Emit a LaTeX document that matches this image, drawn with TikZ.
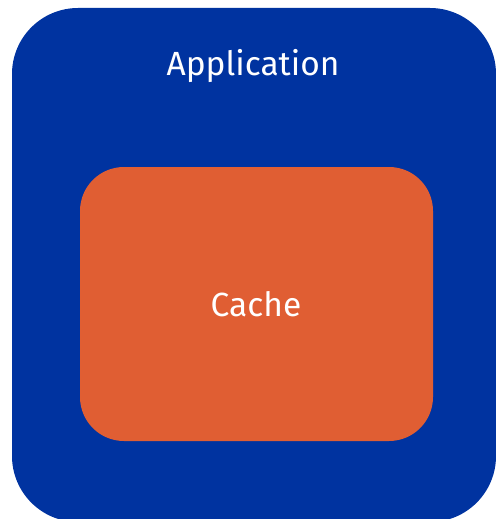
\documentclass[tikz,border=0pt]{standalone}
\usepackage{fontspec}
\setmainfont{Fira Sans}
\definecolor{appblue}{HTML}{0033A0}
\definecolor{cacheorange}{HTML}{E05E33}
\begin{document}
\begin{tikzpicture}[x=1pt,y=-1pt,
  box/.style={inner sep=0pt,outer sep=0pt},
  lbl/.style={text=white,font=\fontsize{33.5}{38}\selectfont,inner sep=0pt,anchor=base}]
\useasboundingbox (0,0) rectangle (495,519);
\fill[appblue,rounded corners=66pt] (12,8) rectangle (496,522);
\node[box,fill=cacheorange,rounded corners=44pt,minimum width=353pt,minimum height=274pt,anchor=north west] (cache) at (80,167) {};
\node[lbl] (applbl) at (253,75) {Application};
\node[lbl] (cachelbl) at (256,316) {Cache};
\end{tikzpicture}
\end{document}
